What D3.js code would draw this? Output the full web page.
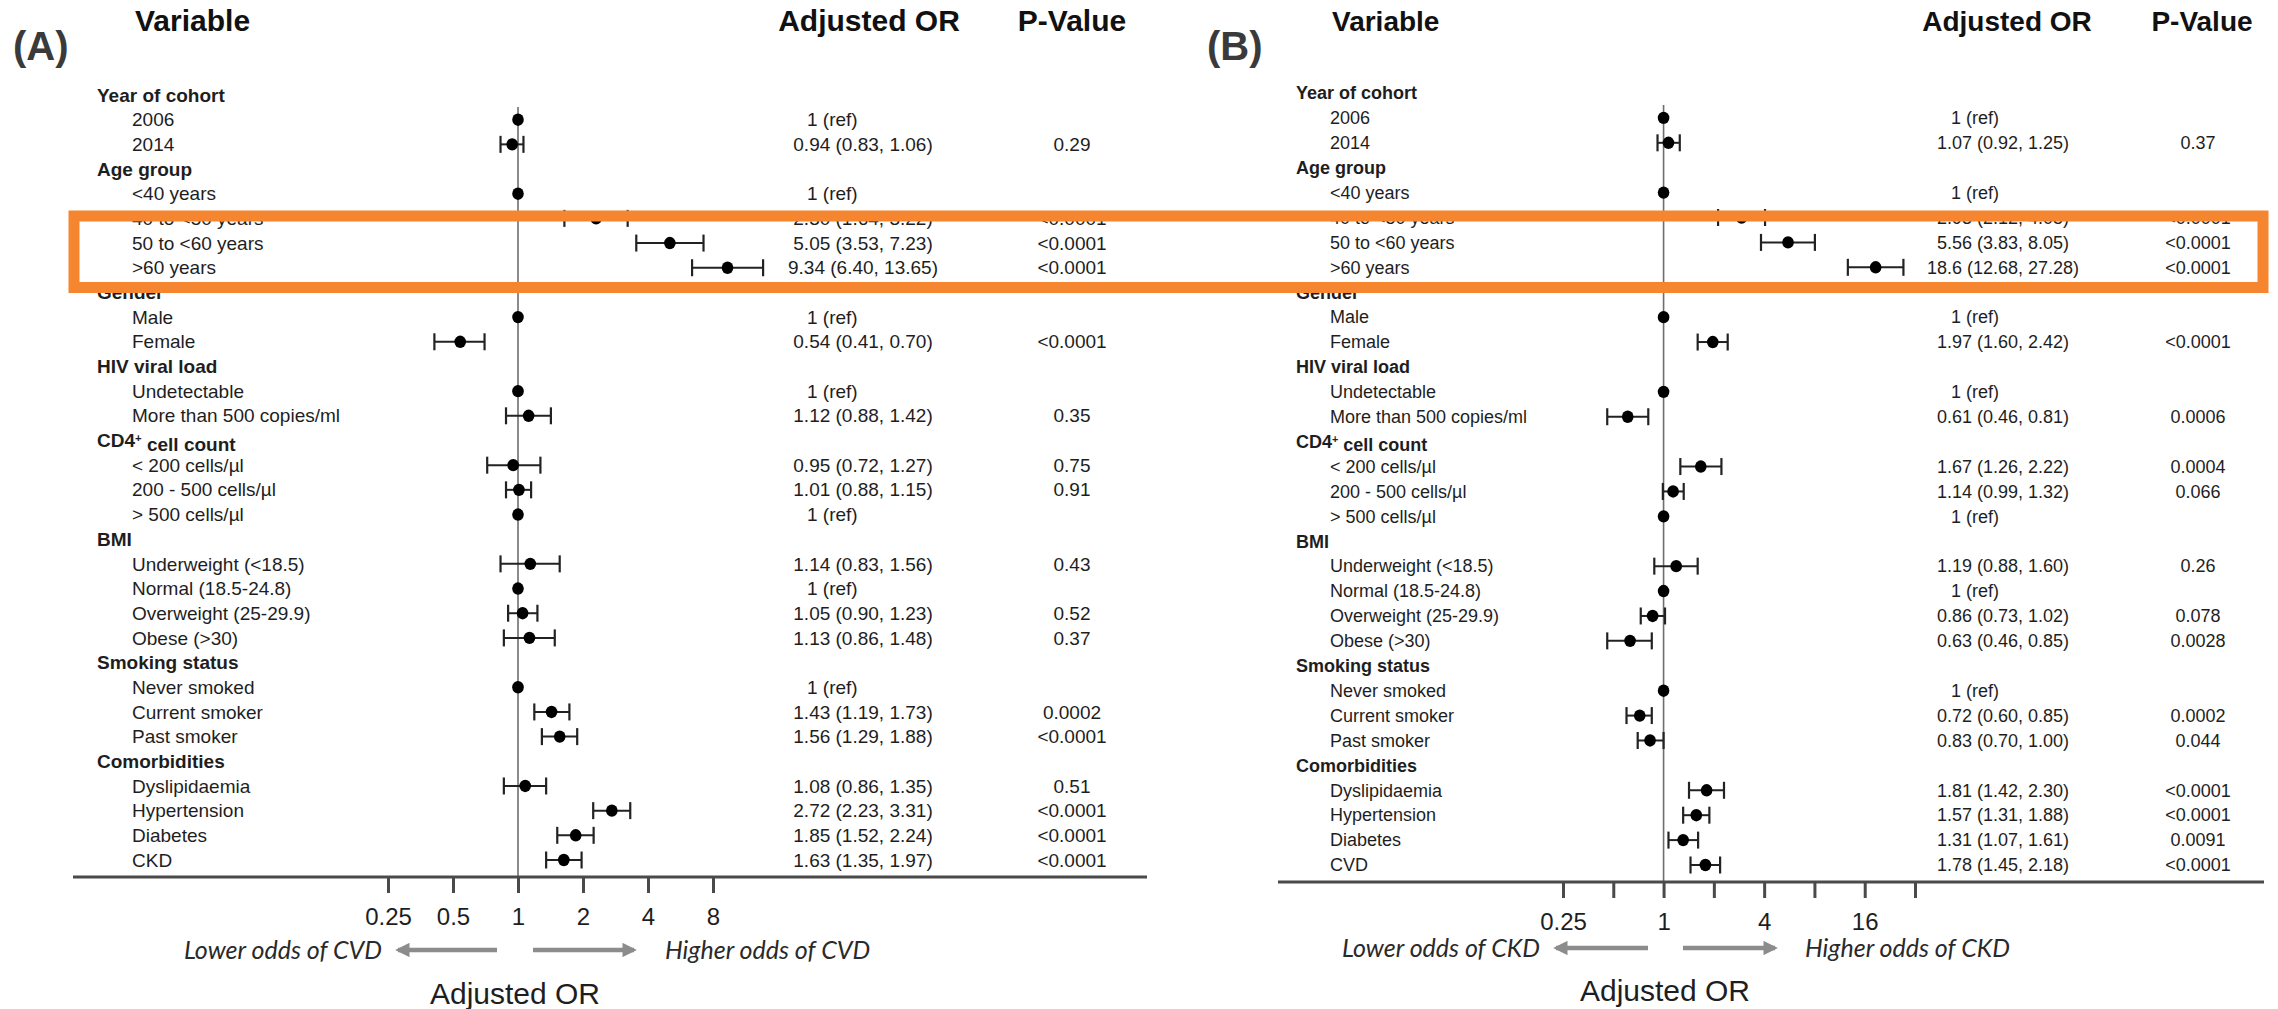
<!DOCTYPE html>
<html>
<head>
<meta charset="utf-8">
<script src="https://cdn.jsdelivr.net/npm/d3@7"></script>
<style>
    body { margin: 0; background: #fff; }
    svg { display: block; }
</style>
</head>
<body>
<div id="chart"></div>
<script>
// row labels, same order in both panels
const labelsA = ["Year of cohort", "2006", "2014", "Age group", "<40 years", "40 to <50 years", "50 to <60 years", ">60 years",
    "Gender", "Male", "Female", "HIV viral load", "Undetectable", "More than 500 copies/ml", "CD4+ cell count",
    "< 200 cells/\u00b5l", "200 - 500 cells/\u00b5l", "> 500 cells/\u00b5l", "BMI", "Underweight (<18.5)", "Normal (18.5-24.8)",
    "Overweight (25-29.9)", "Obese (>30)", "Smoking status", "Never smoked", "Current smoker", "Past smoker",
    "Comorbidities", "Dyslipidaemia", "Hypertension", "Diabetes", "CKD"]
const labelsB = labelsA.slice(0, 31).concat(["CVD"])
const groupHeaders = ["Year of cohort", "Age group", "Gender", "HIV viral load", "CD4+ cell count", "BMI", "Smoking status", "Comorbidities"]

// panel A - odds of CVD (null = group header, 1 with no interval = reference)
const orA = [null, 1, 0.94, null, 1, 2.30, 5.05, 9.34, null, 1, 0.54, null, 1, 1.12, null, 0.95, 1.01, 1, null, 1.14, 1, 1.05, 1.13, null, 1, 1.43, 1.56, null, 1.08, 2.72, 1.85, 1.63]
const lowA = [null, null, 0.83, null, null, 1.64, 3.53, 6.40, null, null, 0.41, null, null, 0.88, null, 0.72, 0.88, null, null, 0.83, null, 0.90, 0.86, null, null, 1.19, 1.29, null, 0.86, 2.23, 1.52, 1.35]
const highA = [null, null, 1.06, null, null, 3.22, 7.23, 13.65, null, null, 0.70, null, null, 1.42, null, 1.27, 1.15, null, null, 1.56, null, 1.23, 1.48, null, null, 1.73, 1.88, null, 1.35, 3.31, 2.24, 1.97]
const pA = ["", "", "0.29", "", "", "<0.0001", "<0.0001", "<0.0001", "", "", "<0.0001", "", "", "0.35", "", "0.75", "0.91", "", "", "0.43", "", "0.52", "0.37", "", "", "0.0002", "<0.0001", "", "0.51", "<0.0001", "<0.0001", "<0.0001"]
const ticksA = [0.25, 0.5, 1, 2, 4, 8]
const tickLabelsA = [0.25, 0.5, 1, 2, 4, 8]

// panel B - odds of CKD
const orB = [null, 1, 1.07, null, 1, 2.93, 5.56, 18.6, null, 1, 1.97, null, 1, 0.61, null, 1.67, 1.14, 1, null, 1.19, 1, 0.86, 0.63, null, 1, 0.72, 0.83, null, 1.81, 1.57, 1.31, 1.78]
const lowB = [null, null, 0.92, null, null, 2.12, 3.83, 12.68, null, null, 1.60, null, null, 0.46, null, 1.26, 0.99, null, null, 0.88, null, 0.73, 0.46, null, null, 0.60, 0.70, null, 1.42, 1.31, 1.07, 1.45]
const highB = [null, null, 1.25, null, null, 4.05, 8.05, 27.28, null, null, 2.42, null, null, 0.81, null, 2.22, 1.32, null, null, 1.60, null, 1.02, 0.85, null, null, 0.85, 1.00, null, 2.30, 1.88, 1.61, 2.18]
const pB = ["", "", "0.37", "", "", "<0.0001", "<0.0001", "<0.0001", "", "", "<0.0001", "", "", "0.0006", "", "0.0004", "0.066", "", "", "0.26", "", "0.078", "0.0028", "", "", "0.0002", "0.044", "", "<0.0001", "<0.0001", "0.0091", "<0.0001"]
const ticksB = [0.25, 0.5, 1, 2, 4, 8, 16, 32]
const tickLabelsB = [0.25, 1, 4, 16]

const width = 2278,
    height = 1009;

const svg = d3.select("#chart").append("svg")
    .attr("width", width)
    .attr("height", height)
    .style("font-family", "'Liberation Sans', Arial, sans-serif")

svg.append("rect").attr("width", width).attr("height", height).attr("fill", "#fff")

// arrow head for the lower/higher odds arrows
svg.append("defs").append("marker")
    .attr("id", "head")
    .attr("viewBox", "0 0 10 10")
    .attr("refX", 8).attr("refY", 5)
    .attr("markerWidth", 3.2).attr("markerHeight", 3.2)
    .attr("orient", "auto-start-reverse")
    .append("path")
    .attr("d", "M0,0 L10,5 L0,10 Z")
    .attr("fill", "#8c8c8c")

// estimates above 10 were printed with one decimal, intervals always with two
const fmtEst = (v) => v >= 10 ? d3.format(".1f")(v) : d3.format(".2f")(v)
const fmtCI = d3.format(".2f")

const drawPanel = (p) => {
    const g = svg.append("g")
    const n = p.labels.length

    const y = d3.scaleLinear().domain([0, n - 1]).range([p.rowTop, p.rowBottom])
    const x = d3.scaleLog().base(2)
        .domain(d3.extent(p.ticks))
        .range(p.range)

    // panel letter and column headers
    g.append("text").attr("x", p.tagX).attr("y", 60)
        .style("font-size", "40px").style("font-weight", "bold").attr("fill", "#3a3a3a")
        .text(p.tag)
    g.append("text").attr("x", p.varX).attr("y", 31)
        .style("font-size", p.headFont + "px").style("font-weight", "bold").attr("fill", "#111")
        .text("Variable")
    g.append("text").attr("x", p.orHeadX).attr("y", 31).attr("text-anchor", "middle")
        .style("font-size", p.headFont + "px").style("font-weight", "bold").attr("fill", "#111")
        .text("Adjusted OR")
    g.append("text").attr("x", p.pHeadX).attr("y", 31).attr("text-anchor", "middle")
        .style("font-size", p.headFont + "px").style("font-weight", "bold").attr("fill", "#111")
        .text("P-Value")

    // row labels
    p.labels.forEach((d, i) => {
        const isHead = groupHeaders.includes(d)
        const t = g.append("text")
            .attr("x", isHead ? p.headerX : p.childX)
            .attr("y", y(i)).attr("dy", "0.35em")
            .style("font-size", p.rowFont + "px")
            .style("font-weight", isHead ? "bold" : "normal")
            .attr("fill", "#1e1e1e")
        if (d === "CD4+ cell count") {
            t.append("tspan").text("CD4")
            t.append("tspan").attr("dy", "-0.45em").style("font-size", "0.6em").text("+")
            t.append("tspan").attr("dy", "0.45em").text(" cell count")
        } else {
            t.text(d)
        }
    })

    // reference line at OR = 1
    g.append("line")
        .attr("x1", x(1)).attr("x2", x(1))
        .attr("y1", y(0) + 12).attr("y2", p.axisY)
        .attr("stroke", "#6e6e6e").attr("stroke-width", 1.6)

    // confidence intervals
    const ci = d3.range(n).filter(i => p.low[i] != null)
    g.selectAll(".whisker").data(ci).enter().append("line")
        .attr("x1", i => x(p.low[i])).attr("x2", i => x(p.high[i]))
        .attr("y1", i => y(i)).attr("y2", i => y(i))
        .attr("stroke", "#222").attr("stroke-width", 2)
    ci.forEach((i) => {
        [p.low[i], p.high[i]].forEach((v) => {
            g.append("line")
                .attr("x1", x(v)).attr("x2", x(v))
                .attr("y1", y(i) - 8.5).attr("y2", y(i) + 8.5)
                .attr("stroke", "#222").attr("stroke-width", 2.2)
        })
    })

    // point estimates
    const pts = d3.range(n).filter(i => p.or[i] != null)
    g.selectAll(".dot").data(pts).enter().append("ellipse")
        .attr("cx", i => x(p.or[i])).attr("cy", i => y(i))
        .attr("rx", 5.8).attr("ry", 6.2)
        .attr("fill", "#000")

    // OR and p-value columns
    pts.forEach((i) => {
        const isRef = p.low[i] == null
        g.append("text")
            .attr("x", isRef ? p.refX : p.orX)
            .attr("y", y(i)).attr("dy", "0.35em")
            .attr("text-anchor", isRef ? "start" : "middle")
            .style("font-size", p.valFont + "px").attr("fill", "#1e1e1e")
            .text(isRef ? "1 (ref)" : `${fmtEst(p.or[i])} (${fmtCI(p.low[i])}, ${fmtCI(p.high[i])})`)
        g.append("text")
            .attr("x", p.pX).attr("y", y(i)).attr("dy", "0.35em")
            .attr("text-anchor", "middle")
            .style("font-size", p.valFont + "px").attr("fill", "#1e1e1e")
            .text(p.pvals[i])
    })

    // x axis
    g.append("line")
        .attr("x1", p.lineX[0]).attr("x2", p.lineX[1])
        .attr("y1", p.axisY).attr("y2", p.axisY)
        .attr("stroke", "#4a4a4a").attr("stroke-width", 3)
    g.append("g")
        .attr("transform", `translate(0,${p.axisY})`)
        .call(d3.axisBottom(x).tickValues(p.ticks).tickSize(16).tickPadding(15)
            .tickFormat(d => p.tickLabels.includes(d) ? d : ""))
        .call(g => g.select(".domain").remove())
        .call(g => g.selectAll(".tick line").attr("stroke", "#4a4a4a").attr("stroke-width", 3))
        .call(g => g.selectAll(".tick text")
            .style("font-family", "'Liberation Sans', Arial, sans-serif")
            .style("font-size", "24px").attr("fill", "#1e1e1e"))

    // direction arrows
    g.append("line")
        .attr("x1", p.leftArrow[0]).attr("x2", p.leftArrow[1])
        .attr("y1", p.arrowY).attr("y2", p.arrowY)
        .attr("stroke", "#8c8c8c").attr("stroke-width", 4.5)
        .attr("marker-end", "url(#head)")
    g.append("line")
        .attr("x1", p.rightArrow[0]).attr("x2", p.rightArrow[1])
        .attr("y1", p.arrowY).attr("y2", p.arrowY)
        .attr("stroke", "#8c8c8c").attr("stroke-width", 4.5)
        .attr("marker-end", "url(#head)")
    g.append("text")
        .attr("x", p.lowerEnd).attr("y", p.arrowY).attr("dy", "0.35em")
        .attr("text-anchor", "end")
        .style("font-family", "Lato, sans-serif").style("font-style", "italic").style("font-size", "25px")
        .attr("fill", "#2a2a2a")
        .text("Lower odds of " + p.outcome)
    g.append("text")
        .attr("x", p.higherStart).attr("y", p.arrowY).attr("dy", "0.35em")
        .style("font-family", "Lato, sans-serif").style("font-style", "italic").style("font-size", "25px")
        .attr("fill", "#2a2a2a")
        .text("Higher odds of " + p.outcome)

    // axis title
    g.append("text")
        .attr("x", p.titleX).attr("y", p.titleY).attr("dy", "0.35em")
        .attr("text-anchor", "middle")
        .style("font-size", "30px").attr("fill", "#1e1e1e")
        .text("Adjusted OR")
}

drawPanel({
    tag: "(A)", labels: labelsA, or: orA, low: lowA, high: highA, pvals: pA,
    ticks: ticksA, tickLabels: tickLabelsA, outcome: "CVD",
    tagX: 13, varX: 135, headerX: 97, childX: 132, orX: 863, refX: 807, pX: 1072, orHeadX: 869, pHeadX: 1072,
    rowTop: 95, rowBottom: 860, rowFont: 19, valFont: 19, headFont: 30,
    range: [388, 713], axisY: 877, lineX: [73, 1147],
    arrowY: 950, leftArrow: [497, 398], rightArrow: [533, 634], lowerEnd: 382, higherStart: 665,
    titleX: 515, titleY: 993
})

drawPanel({
    tag: "(B)", labels: labelsB, or: orB, low: lowB, high: highB, pvals: pB,
    ticks: ticksB, tickLabels: tickLabelsB, outcome: "CKD",
    tagX: 1207, varX: 1332, headerX: 1296, childX: 1330, orX: 2003, refX: 1951, pX: 2198, orHeadX: 2007, pHeadX: 2202,
    rowTop: 93, rowBottom: 865, rowFont: 18, valFont: 18, headFont: 28,
    range: [1563, 1915], axisY: 882, lineX: [1278, 2264],
    arrowY: 948, leftArrow: [1648, 1556], rightArrow: [1683, 1775], lowerEnd: 1540, higherStart: 1805,
    titleX: 1665, titleY: 990
})

// orange highlight box over the older age groups
svg.append("rect")
    .attr("x", 74).attr("y", 216)
    .attr("width", 2263 - 74).attr("height", 287.5 - 216)
    .attr("fill", "none")
    .attr("stroke", "#f5852f")
    .attr("stroke-width", 11)
</script>
</body>
</html>
